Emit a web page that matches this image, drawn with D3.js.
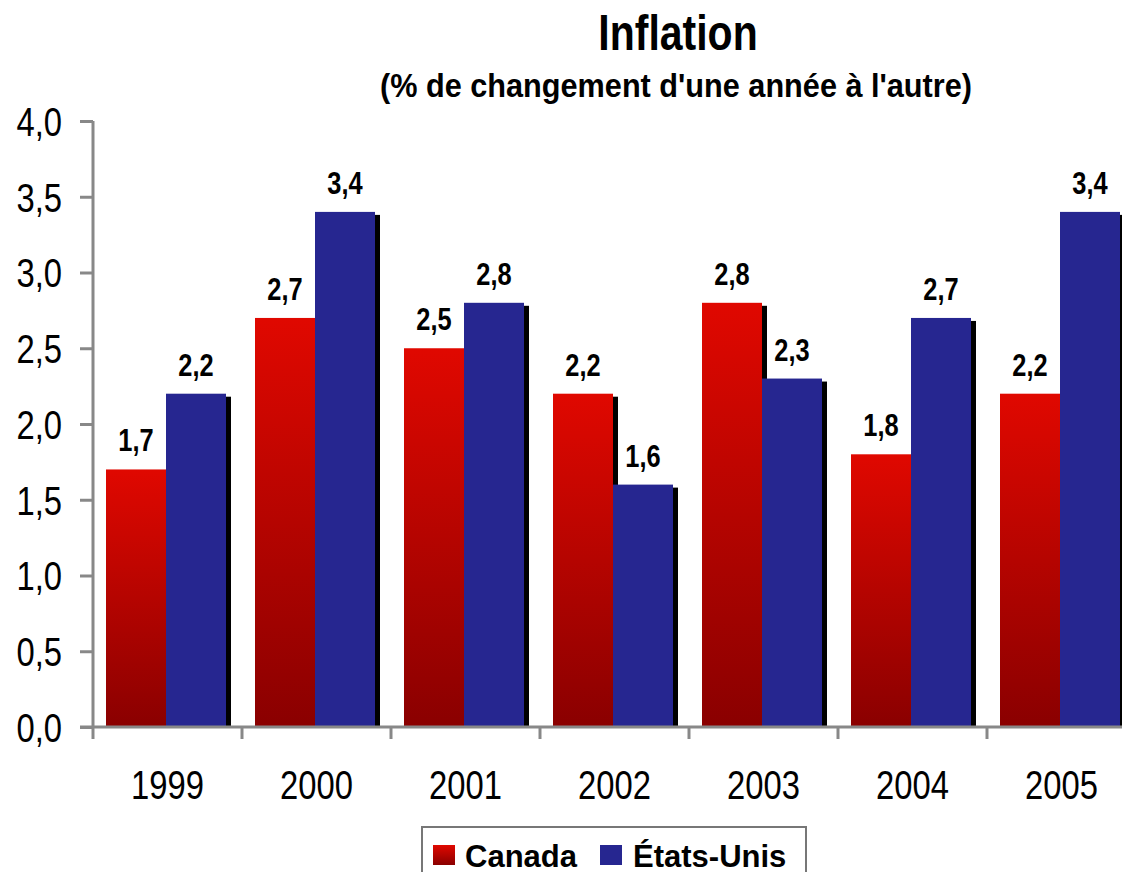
<!DOCTYPE html>
<html>
<head>
<meta charset="utf-8">
<script src="https://cdn.jsdelivr.net/npm/d3@7"></script>
<style>
  body { margin: 0; background: #fff; }
  text { font-family: "Liberation Sans", Arial, sans-serif; }
</style>
</head>
<body>
<script>
const YEARS = ["1999", "2000", "2001", "2002", "2003", "2004", "2005"]
const SERIES = ["Canada", "États-Unis"]
const CANADA = [1.7, 2.7, 2.5, 2.2, 2.8, 1.8, 2.2]
const USA = [2.2, 3.4, 2.8, 1.6, 2.3, 2.7, 3.4]
const Y_TICKS = [0, 0.5, 1, 1.5, 2, 2.5, 3, 3.5, 4]

const m = { width: 1122, height: 872 }
const plot = { left: 93, top: 121, bottom: 727, step: 149 }
const NARROW = 0.82   // no Arial Narrow here, so squeeze Liberation Sans

const svg = d3.select("body").append("svg")
    .attr("width", m.width)
    .attr("height", m.height)

// red bars fade from bright top to dark bottom
const defs = svg.append("defs")
const grad = defs.append("linearGradient")
    .attr("id", "redGrad")
    .attr("x1", 0).attr("y1", 0).attr("x2", 0).attr("y2", 1)
grad.append("stop").attr("offset", "0%").attr("stop-color", "#e00800")
grad.append("stop").attr("offset", "100%").attr("stop-color", "#8a0000")

const x = d3.scaleBand()
    .domain(YEARS)
    .range([plot.left, plot.left + plot.step * YEARS.length])

const xs = d3.scaleBand()
    .domain(SERIES)
    .range([13, 133])

const y = d3.scaleLinear()
    .domain([0, 4])
    .range([plot.bottom, plot.top])

const rows = YEARS.map((yr, i) => ({ year: yr, values: [
    { s: "Canada", v: CANADA[i] },
    { s: "États-Unis", v: USA[i] }
]}))

const fillOf = s => s === "Canada" ? "url(#redGrad)" : "#262690"
const fmt = v => v.toFixed(1).replace(".", ",")
const valOf = (d, s) => d.values.find(e => e.s === s).v

// title
svg.append("text")
    .attr("transform", `translate(678,50) scale(${NARROW},1)`)
    .attr("text-anchor", "middle")
    .style("font-weight", "bold")
    .style("font-size", "50px")
    .text("Inflation")

svg.append("text")
    .attr("x", 676).attr("y", 97)
    .attr("text-anchor", "middle")
    .attr("textLength", 592)
    .attr("lengthAdjust", "spacingAndGlyphs")
    .style("font-weight", "bold")
    .style("font-size", "34px")
    .text("(% de changement d'une année à l'autre)")

// bars, drawn series by series so the shadow of one sits under the next
const groups = svg.selectAll(".grp")
    .data(rows)
    .enter().append("g")
    .attr("class", "grp")
    .attr("transform", d => `translate(${x(d.year)},0)`)

SERIES.forEach(s => {
  groups.append("rect")
      .attr("x", xs(s) + 5)
      .attr("y", d => y(valOf(d, s)) + 3)
      .attr("width", xs.bandwidth())
      .attr("height", d => plot.bottom - y(valOf(d, s)) - 3)
      .attr("fill", "#000")
  groups.append("rect")
      .attr("x", xs(s))
      .attr("y", d => y(valOf(d, s)))
      .attr("width", xs.bandwidth())
      .attr("height", d => plot.bottom - y(valOf(d, s)))
      .attr("fill", fillOf(s))
})

// value labels
SERIES.forEach(s => {
  groups.append("text")
      .attr("transform", d => `translate(${xs(s) + xs.bandwidth() / 2},${y(valOf(d, s)) - 18}) scale(${NARROW},1)`)
      .attr("text-anchor", "middle")
      .style("font-weight", "bold")
      .style("font-size", "31px")
      .text(d => fmt(valOf(d, s)))
})

// axes
const yAxis = d3.axisLeft(y)
    .tickValues(Y_TICKS)
    .tickSize(13)
    .tickFormat(fmt)

const gy = svg.append("g")
    .attr("transform", `translate(${plot.left},0)`)
    .call(yAxis)
gy.select(".domain").attr("stroke", "#888").attr("stroke-width", 3)
    .attr("d", `M0,${plot.top}V${plot.bottom}`)
gy.selectAll(".tick line").attr("stroke", "#888").attr("stroke-width", 3)
gy.selectAll(".tick text")
    .attr("x", 0)
    .attr("dy", "0.36em")
    .attr("transform", `translate(-31,0) scale(${NARROW},1)`)
    .attr("fill", "#000")
    .style("font-size", "40px")

const xAxis = d3.axisBottom(x)
    .tickSize(0)
    .tickPadding(72)

const gx = svg.append("g")
    .attr("transform", `translate(0,${plot.bottom})`)
    .call(xAxis)
gx.select(".domain").attr("stroke", "#888").attr("stroke-width", 3)
    .attr("d", `M${plot.left - 13},0H${m.width}`)
gx.selectAll(".tick text")
    .attr("dy", 0)
    .attr("y", 0)
    .attr("transform", `translate(0,72) scale(${NARROW},1)`)
    .attr("fill", "#000")
    .style("font-size", "40px")

// category separators under the x axis
gx.selectAll(".sep")
    .data(YEARS)
    .enter().append("line")
    .attr("x1", d => x(d)).attr("x2", d => x(d))
    .attr("y1", 0).attr("y2", 12)
    .attr("stroke", "#888").attr("stroke-width", 3)

// legend
const lg = svg.append("g").attr("transform", "translate(422,827)")
lg.append("rect")
    .attr("x", 0).attr("y", 0)
    .attr("width", 384).attr("height", 60)
    .attr("fill", "#fff")
    .attr("stroke", "#777").attr("stroke-width", 2)

const legendX = [11, 178]
const legendTextX = [43, 211]
SERIES.forEach((s, i) => {
  lg.append("rect")
      .attr("x", legendX[i]).attr("y", 18)
      .attr("width", 22).attr("height", 20)
      .attr("fill", fillOf(s))
  lg.append("text")
      .attr("x", legendTextX[i]).attr("y", 40)
      .style("font-weight", "bold")
      .style("font-size", "31px")
      .text(s)
})
</script>
</body>
</html>
